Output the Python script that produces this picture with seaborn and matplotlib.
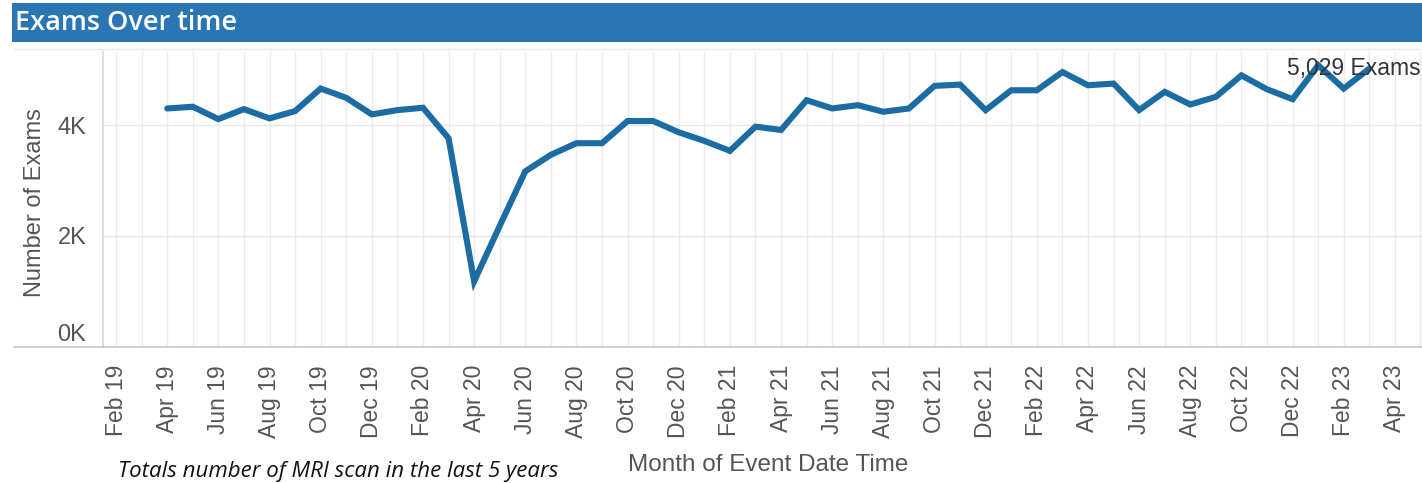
import matplotlib
matplotlib.use("Agg")
import matplotlib.pyplot as plt
import seaborn as sns
import pandas as pd
from matplotlib.patches import Rectangle
from matplotlib.lines import Line2D

# ---- data ----
months = ["Apr 19", "May 19", "Jun 19", "Jul 19", "Aug 19", "Sep 19", "Oct 19", "Nov 19", "Dec 19",
          "Jan 20", "Feb 20", "Mar 20", "Apr 20", "May 20", "Jun 20", "Jul 20", "Aug 20", "Sep 20",
          "Oct 20", "Nov 20", "Dec 20", "Jan 21", "Feb 21", "Mar 21", "Apr 21", "May 21", "Jun 21",
          "Jul 21", "Aug 21", "Sep 21", "Oct 21", "Nov 21", "Dec 21", "Jan 22", "Feb 22", "Mar 22",
          "Apr 22", "May 22", "Jun 22", "Jul 22", "Aug 22", "Sep 22", "Oct 22", "Nov 22", "Dec 22",
          "Jan 23", "Feb 23", "Mar 23"]
month_index = list(range(3, 51))  # months since Jan 19 (Jan 19 = 0)
exams = [4306, 4337, 4113, 4294, 4126, 4258, 4667, 4499, 4198,
         4276, 4319, 3766, 1171, 2175, 3166, 3465, 3676, 3676,
         4078, 4078, 3874, 3718, 3537, 3976, 3916, 4456, 4306,
         4366, 4246, 4306, 4715, 4739, 4276, 4636, 4636, 4967,
         4727, 4757, 4276, 4607, 4378, 4517, 4906, 4654, 4474,
         5090, 4667, 5029]

tick_index = list(range(1, 53))
tick_labels = ["Feb 19", "Apr 19", "Jun 19", "Aug 19", "Oct 19", "Dec 19", "Feb 20", "Apr 20",
               "Jun 20", "Aug 20", "Oct 20", "Dec 20", "Feb 21", "Apr 21", "Jun 21", "Aug 21",
               "Oct 21", "Dec 21", "Feb 22", "Apr 22", "Jun 22", "Aug 22", "Oct 22", "Dec 22",
               "Feb 23", "Apr 23"]
label_index = list(range(1, 52, 2))
y_ticks = [0, 2000, 4000]
y_tick_labels = ["0K", "2K", "4K"]

df = pd.DataFrame({"month": month_index, "exams": exams})

sns.set_theme(style="white")
plt.rcParams["font.family"] = ["Liberation Sans", "DejaVu Sans"]

W, H = 1422, 483
fig = plt.figure(figsize=(W / 100, H / 100), dpi=100)
ax = fig.add_axes([103 / W, 1 - 347 / H, 1 - 103 / W, (347 - 52) / H])

line_color = "#1b6ca3"
sns.lineplot(data=df, x="month", y="exams", ax=ax, color=line_color, linewidth=4.4,
             solid_joinstyle="miter", zorder=3)

ax.set_xlim(0.49, 52.06)
ax.set_ylim(-20, 5330)

# gridlines
ax.set_xticks(label_index, minor=False)
ax.set_xticks([i for i in tick_index if i not in label_index], minor=True)
ax.set_xticklabels(tick_labels, rotation=90, fontsize=16.5, color="#555555")
ax.tick_params(axis="x", which="both", direction="out", length=9, width=1, color="#cfcfcf", pad=4)
for i in tick_index:
    ax.axvline(i, color="#ececec", linewidth=1, zorder=0)

ax.set_yticks(y_ticks)
ax.set_yticklabels(y_tick_labels, fontsize=17, color="#555555")
ax.tick_params(axis="y", direction="out", length=6, width=1, color="#d8d8d8", pad=6)
for lbl in ax.get_yticklabels():
    if lbl.get_text() == "0K":
        lbl.set_va("bottom")
for v in y_ticks[1:]:
    ax.axhline(v, color="#e6e6e6", linewidth=1, zorder=0)

for s in ["top", "right"]:
    ax.spines[s].set_visible(False)
ax.spines["left"].set_color("#d8d8d8")
ax.spines["bottom"].set_color("#c8c8c8")
ax.spines["bottom"].set_linewidth(1.2)

ax.set_xlabel("")
ax.set_ylabel("Number of Exams", fontsize=17, color="#555555")
ax.yaxis.set_label_coords(-57 / (W - 103), 0.49)

# end label
ax.annotate("5,029 Exams", xy=(month_index[-1], exams[-1]), xytext=(-11, 0),
            textcoords="offset points", ha="center", va="center", fontsize=16.5,
            color="#333333", zorder=4, annotation_clip=False)

# title bar
fig.patches.append(Rectangle((12 / W, 1 - 42 / H), 1 - 12 / W, 39 / H,
                             transform=fig.transFigure, facecolor="#2a76b4",
                             edgecolor="none", zorder=0))
fig.text(15 / W, 1 - 23 / H, "Exams Over time", color="white", fontsize=19.5,
         fontfamily="Open Sans", fontweight="semibold", va="center", ha="left")

# faint lines
fig.lines.append(Line2D([14 / W, 103 / W], [1 - 347 / H, 1 - 347 / H],
                        transform=fig.transFigure, color="#c8c8c8", linewidth=1.2))
fig.lines.append(Line2D([14 / W, 1], [1 - 49 / H, 1 - 49 / H],
                        transform=fig.transFigure, color="#eee6ee", linewidth=1))

# x axis title and caption
fig.text(768 / W, 1 - 465 / H, "Month of Event Date Time", fontsize=17.5, color="#555555",
         ha="center", va="center")
fig.text(118 / W, 1 - 472 / H, "Totals number of MRI scan in the last 5 years", fontsize=16,
         fontstyle="italic", fontfamily="Open Sans", color="#111111", ha="left", va="center")

fig.savefig("out.png", dpi=100)
